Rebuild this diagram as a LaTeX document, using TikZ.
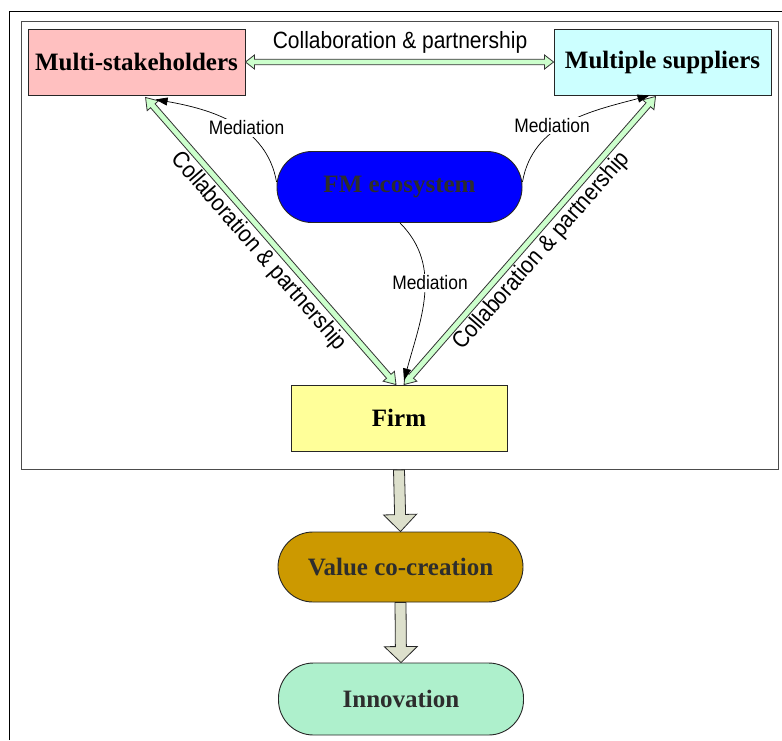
\documentclass[tikz,border=0pt]{standalone}
\usepackage{fontspec}
\setmainfont{Liberation Serif}
\newfontfamily\sanslbl{Liberation Sans}
\usetikzlibrary{calc,arrows.meta}
\definecolor{msfill}{RGB}{255,192,192}
\definecolor{supfill}{RGB}{204,255,255}
\definecolor{firmfill}{RGB}{255,255,153}
\definecolor{valfill}{RGB}{204,153,0}
\definecolor{innfill}{RGB}{174,240,204}
\definecolor{greenfill}{RGB}{204,255,204}
\definecolor{greyfill}{RGB}{221,224,204}
\definecolor{darktext}{RGB}{45,45,45}
\newcommand\lbl[1]{\scalebox{1}[1.12]{#1}}
% block arrow: #1 from, #2 to, #3 shaft half width, #4 head half width, #5 head length, #6 style, #7 1=double 0=single
\newcommand\blockarrow[7]{%
  \path let \p1=($(#2)-(#1)$) in \pgfextra{%
    \pgfmathsetmacro\tmpang{atan2(\y1,\x1)}%
    \pgfmathsetmacro\tmplen{veclen(\x1,\y1)}%
    \xdef\bAng{\tmpang}\xdef\bLen{\tmplen}};
  \begin{scope}[shift={(#1)}, rotate=\bAng]
    \ifnum#7=1
      \draw[#6] (0,0) -- (#5,#4) -- (#5,#3) -- (\bLen-#5,#3) -- (\bLen-#5,#4) -- (\bLen,0)
        -- (\bLen-#5,-#4) -- (\bLen-#5,-#3) -- (#5,-#3) -- (#5,-#4) -- cycle;
    \else
      \draw[#6] (0,#3) -- (\bLen-#5,#3) -- (\bLen-#5,#4) -- (\bLen,0)
        -- (\bLen-#5,-#4) -- (\bLen-#5,-#3) -- (0,-#3) -- cycle;
    \fi
  \end{scope}}
\begin{document}
\begin{tikzpicture}[x=1pt,y=1pt,
  box/.style={draw=black!85, line width=0.9pt, minimum width=217, minimum height=66, inner sep=0,
    font=\fontsize{25}{30}\selectfont\bfseries},
  pill/.style={box, rounded corners=35, minimum width=245, minimum height=71, text=darktext},
  medlbl/.style={fill=white, inner sep=1.5pt, font=\sanslbl\fontsize{17.4}{20}\selectfont},
  collbl/.style={inner sep=2pt, font=\sanslbl\fontsize{21}{24}\selectfont},
  medarrow/.style={draw=black, line width=0.7pt, -{Triangle[length=12pt,width=8pt]}},
  greenarr/.style={draw=black!80, line width=0.8pt, fill=greenfill},
  greyarr/.style={draw=black!85, line width=0.8pt, fill=greyfill},
]
\useasboundingbox (0,0) rectangle (782,-740);
% frames
\draw[line width=1.6pt] (9.5,-740) -- (9.5,-11.5) -- (782,-11.5);
\draw[draw=black!70, line width=0.8pt] (21,-21) rectangle (778.5,-469.5);

% nodes
\node[box, fill=msfill] (ms) at (136.5,-62) {Multi-stakeholders};
\node[box, fill=supfill] (sup) at (662.5,-62) {Multiple suppliers};
\node[pill, fill=blue] (fm) at (399.5,-187) {FM ecosystem};
\node[box, fill=firmfill, minimum width=216] (firm) at (399,-418) {Firm};
\node[pill, fill=valfill, minimum height=70] (val) at (400.5,-567) {Value co-creation};
\node[pill, fill=innfill, minimum height=72] (inn) at (401,-699) {Innovation};

% coordinates
\coordinate (fb) at ([yshift=-18.5]firm.south);
\coordinate (gL1) at ([xshift=-3]firm.north);
\coordinate (gR1) at ([xshift=5]firm.north);
\coordinate (gL2) at ([xshift=118,yshift=-2]ms.south west);
\coordinate (gR2) at ([xshift=102,yshift=-1]sup.south west);
\coordinate (m1s) at ([yshift=5]fm.west);
\coordinate (m1e) at ([xshift=128,yshift=-4]ms.south west);
\coordinate (m2s) at ([yshift=5]fm.east);
\coordinate (m2e) at ([xshift=96]sup.south west);
\coordinate (m3s) at ([xshift=0.5]fm.south);
\coordinate (m3e) at ([xshift=5,yshift=4]firm.north);

% collaboration arrows
\blockarrow{ms.east}{sup.west}{2.7}{7}{9}{greenarr}{1}
\blockarrow{gL1}{gL2}{3}{7.5}{11}{greenarr}{1}
\blockarrow{gR1}{gR2}{3}{7.5}{11}{greenarr}{1}
\node[collbl] (c0) at (400,-42) {\lbl{Collaboration \& partnership}};
\path (gL1) -- (gL2) node[collbl, midway, sloped, below=3pt] (c1) {\lbl{Collaboration \& partnership}};
\path (gR1) -- (gR2) node[collbl, midway, sloped, below=3pt] (c2) {\lbl{Collaboration \& partnership}};

% flow arrows
\blockarrow{fb}{val.north}{5.5}{16.5}{17}{greyarr}{0}
\blockarrow{val.south}{inn.north}{5.5}{16.5}{16}{greyarr}{0}

% mediation
\draw[medarrow] (m1s) to[out=100,in=-10] (m1e);
\draw[medarrow] (m2s) to[out=80,in=195] (m2e);
\draw[medarrow] (m3s) to[out=-45,in=75] (m3e);
\node[medlbl] (md1) at (246.5,-128) {\lbl{Mediation}};
\node[medlbl] (md2) at (552,-125.5) {\lbl{Mediation}};
\node[medlbl] (md3) at (430,-283) {\lbl{Mediation}};
\end{tikzpicture}
\end{document}
